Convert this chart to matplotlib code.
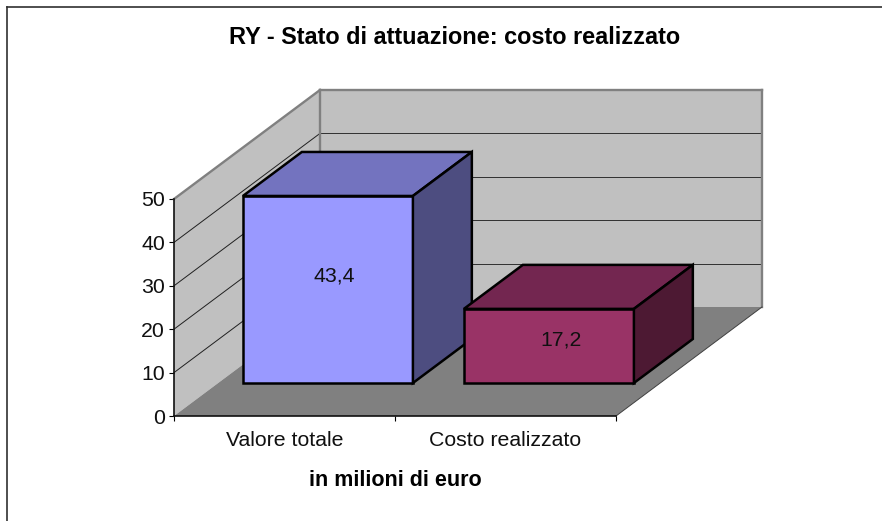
import matplotlib
matplotlib.use("Agg")
import matplotlib.pyplot as plt
from matplotlib.patches import Polygon
from matplotlib.lines import Line2D

categories = ["Valore totale", "Costo realizzato"]
values = [43.4, 17.2]
value_labels = ["43,4", "17,2"]
y_ticks = [0, 10, 20, 30, 40, 50]
title = "RY - Stato di attuazione: costo realizzato"
x_title = "in milioni di euro"

W, H = 882, 521
FS = 15.3
plt.rcParams["font.family"] = ["Liberation Sans", "DejaVu Sans"]
fig = plt.figure(figsize=(W / 100, H / 100), dpi=100, facecolor="white")

# Front plane of the oblique 3D box
L, R, B, T = 174, 616, 416, 199
ax = fig.add_axes([L / W, 1 - B / H, (R - L) / W, (B - T) / H])
ax.set_xlim(0, 2)
ax.set_ylim(0, 50)
ax.patch.set_visible(False)
for s in ("top", "right"):
    ax.spines[s].set_visible(False)
for s in ("left", "bottom"):
    ax.spines[s].set_linewidth(1.2)
    ax.spines[s].set_color("#101010")
    ax.spines[s].set_zorder(6)

DX = 146 / ((R - L) / 2)       # full depth in category units
DY = 109 / ((B - T) / 50)      # full depth in value units
BAR_V = 0.993                  # slight value shrink of the bars
BAR_D0 = 33 / 109              # bar front plane as depth fraction
BAR_D = 44 / 109               # bar depth as a fraction of full depth
BAR_W = 170 / ((R - L) / 2)
BAR_SHIFT = -0.8 / ((R - L) / 2)


def P(x, v, d=0.0):
    return (x + DX * d, v + DY * d)


def poly(pts, fc, ec="none", lw=0.0, z=1):
    ax.add_patch(Polygon(pts, closed=True, facecolor=fc, edgecolor=ec,
                         linewidth=lw, zorder=z, clip_on=False, joinstyle="miter"))


def line(a, b, c="black", lw=0.7, z=2):
    ax.plot([a[0], b[0]], [a[1], b[1]], color=c, lw=lw, zorder=z, clip_on=False,
            solid_capstyle="projecting")


top_v = y_ticks[-1]
poly([P(0, 0), P(0, top_v), P(0, top_v, 1), P(0, 0, 1)], "#C0C0C0")
poly([P(0, 0, 1), P(0, top_v, 1), P(2, top_v, 1), P(2, 0, 1)], "#C0C0C0")
poly([P(0, 0), P(0, 0, 1), P(2, 0, 1), P(2, 0)], "#808080", z=1.5)

for v in y_ticks[1:-1]:
    line(P(0, v), P(0, v, 1), c="#202020", lw=0.7)
    line(P(0, v, 1), P(2, v, 1), c="#303030", lw=0.7)

GR = "#808080"
line(P(0, top_v), P(0, top_v, 1), c=GR, lw=1.7, z=2.5)
line(P(0, top_v, 1), P(2, top_v, 1), c=GR, lw=1.7, z=2.5)
line(P(0, top_v, 1), P(0, 0, 1), c=GR, lw=1.7, z=2.5)
line(P(2, top_v, 1), P(2, 0, 1), c=GR, lw=1.7, z=2.5)
line(P(2, 0, 1), P(2, 0), c="#404040", lw=0.7, z=2.5)

front_cols = ["#9999FF", "#993366"]
top_cols = ["#7373BF", "#732650"]
side_cols = ["#4D4D80", "#4D1933"]
label_offsets = [(6, 13), (11, 6)]

for i, (val, lab) in enumerate(zip(values, value_labels)):
    x0 = i + 0.5 - BAR_W / 2 + BAR_SHIFT
    x1 = x0 + BAR_W
    v = val * BAR_V
    d0, d1 = BAR_D0, BAR_D0 + BAR_D
    z = 3 + i
    ek = dict(ec="black", lw=1.8, z=z)
    poly([P(x0, 0, d0), P(x1, 0, d0), P(x1, v, d0), P(x0, v, d0)], front_cols[i], **ek)
    poly([P(x0, v, d0), P(x1, v, d0), P(x1, v, d1), P(x0, v, d1)], top_cols[i], **ek)
    poly([P(x1, 0, d0), P(x1, 0, d1), P(x1, v, d1), P(x1, v, d0)], side_cols[i], **ek)
    cx, cy = P(i + 0.5, v / 2, d0)
    ax.annotate(lab, xy=(cx, cy), xytext=(label_offsets[i][0] * 0.72, label_offsets[i][1] * 0.72),
                textcoords="offset points", ha="center", va="center",
                fontsize=FS, color="#101010", zorder=8)

ax.set_yticks(y_ticks)
ax.tick_params(axis="y", length=3.4, width=0.8, pad=3.0, labelsize=FS, labelcolor="#101010")
ax.set_xticks([0, 1, 2])
ax.set_xticklabels([])
ax.tick_params(axis="x", which="major", length=3.4, width=0.8)
ax.set_xticks([0.5, 1.5], minor=True)
ax.set_xticklabels(categories, minor=True)
ax.tick_params(axis="x", which="minor", length=0, pad=11, labelsize=FS, labelcolor="#101010")

fig.text(455 / W, 1 - 38 / H, title, ha="center", va="center", fontsize=16.9, fontweight="bold")
fig.text(395 / W, 1 - 480.5 / H, x_title, ha="center", va="center", fontsize=15.5, fontweight="bold")

# Chart-area frame: only the top and left edges lie within the picture
FR = "#303030"
fig.add_artist(Line2D([6.5 / W, 1], [1 - 6.5 / H, 1 - 6.5 / H], color=FR, lw=1.2, transform=fig.transFigure))
fig.add_artist(Line2D([6.5 / W, 6.5 / W], [1 - 6.5 / H, 0], color=FR, lw=1.2, transform=fig.transFigure))

fig.savefig("out.png", dpi=100)
